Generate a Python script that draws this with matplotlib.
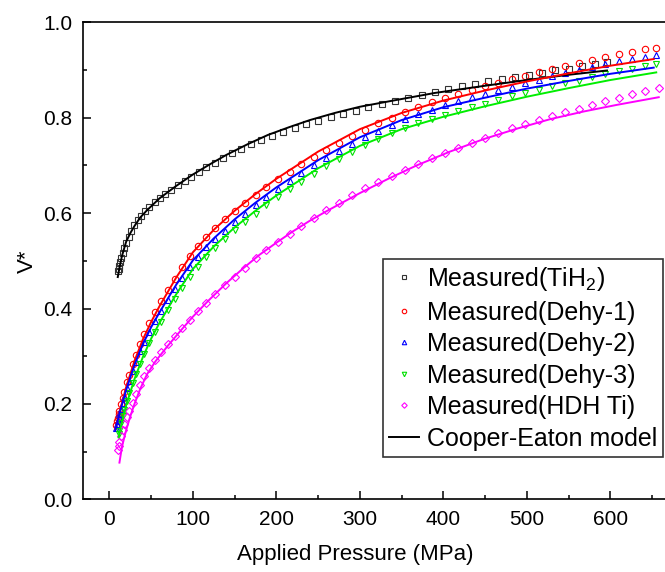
import matplotlib
matplotlib.use('Agg')
import matplotlib.pyplot as plt
from matplotlib.lines import Line2D
from matplotlib.ticker import MultipleLocator

plt.rcParams['font.family'] = ['Liberation Sans', 'DejaVu Sans']
plt.rcParams['mathtext.fontset'] = 'custom'
plt.rcParams['mathtext.rm'] = 'Liberation Sans'
plt.rcParams['mathtext.default'] = 'regular'

# measured data (pressure in MPa, relative density V*)
p_tih2 = [10.5, 11, 12, 13, 14, 16, 18, 20, 23, 26, 30, 34, 38, 43, 48, 54, 60, 67, 74, 82,
          90, 98, 107, 116, 126, 136, 147, 158, 170, 182, 195, 208, 222, 236, 250, 265, 280,
          295, 310, 326, 342, 358, 374, 390, 406, 422, 438, 454, 470, 486, 502, 518, 534, 550,
          566, 582, 596]
v_tih2 = [0.478, 0.482, 0.49, 0.498, 0.505, 0.517, 0.527, 0.537, 0.551, 0.563, 0.575, 0.585,
          0.594, 0.604, 0.613, 0.623, 0.632, 0.641, 0.649, 0.658, 0.667, 0.676, 0.686, 0.697,
          0.706, 0.716, 0.726, 0.735, 0.744, 0.753, 0.762, 0.770, 0.778, 0.786, 0.793, 0.801,
          0.808, 0.815, 0.822, 0.829, 0.836, 0.842, 0.848, 0.854, 0.860, 0.866, 0.871, 0.876,
          0.881, 0.886, 0.890, 0.894, 0.899, 0.903, 0.908, 0.912, 0.916]

p_dehy = [8, 9, 10, 11, 12, 14, 16, 18, 21, 24, 28, 32, 37, 42, 48, 55, 62, 70, 78, 87, 96,
          106, 116, 127, 138, 150, 162, 175, 188, 202, 216, 230, 245, 260, 275, 290, 306, 322,
          338, 354, 370, 386, 402, 418, 434, 450, 466, 482, 498, 514, 530, 546, 562, 578, 594,
          610, 626, 642, 655]
v_dehy1 = [0.156, 0.164, 0.171, 0.178, 0.185, 0.199, 0.212, 0.226, 0.245, 0.261, 0.283, 0.303,
           0.326, 0.347, 0.369, 0.393, 0.415, 0.439, 0.462, 0.487, 0.510, 0.532, 0.551, 0.569,
           0.587, 0.605, 0.622, 0.639, 0.655, 0.671, 0.687, 0.702, 0.718, 0.733, 0.747, 0.761,
           0.775, 0.788, 0.800, 0.812, 0.822, 0.832, 0.841, 0.850, 0.858, 0.866, 0.873, 0.881,
           0.888, 0.895, 0.902, 0.909, 0.915, 0.921, 0.927, 0.933, 0.938, 0.943, 0.947]
v_dehy2 = [0.149, 0.157, 0.164, 0.171, 0.178, 0.190, 0.202, 0.215, 0.233, 0.248, 0.269, 0.288,
           0.310, 0.330, 0.350, 0.374, 0.395, 0.418, 0.440, 0.464, 0.487, 0.507, 0.528, 0.545,
           0.563, 0.582, 0.599, 0.617, 0.634, 0.651, 0.668, 0.684, 0.701, 0.716, 0.730, 0.745,
           0.759, 0.772, 0.785, 0.797, 0.807, 0.817, 0.826, 0.835, 0.843, 0.850, 0.858, 0.865,
           0.873, 0.880, 0.887, 0.893, 0.900, 0.906, 0.912, 0.918, 0.923, 0.928, 0.931]

p_dehy3 = [11, 12, 14, 16, 18, 21, 24, 28, 32, 37, 42, 48, 55, 62, 70, 78, 87, 96, 106, 116,
           127, 138, 150, 162, 175, 188, 202, 216, 230, 245, 260, 275, 290, 306, 322, 338, 354,
           370, 386, 402, 418, 434, 450, 466, 482, 498, 514, 530, 546, 562, 578, 594, 610, 626,
           642, 655]
v_dehy3 = [0.136, 0.144, 0.161, 0.175, 0.188, 0.207, 0.223, 0.243, 0.262, 0.284, 0.305, 0.327,
           0.351, 0.372, 0.396, 0.419, 0.444, 0.466, 0.488, 0.507, 0.527, 0.545, 0.564, 0.581,
           0.599, 0.616, 0.633, 0.650, 0.666, 0.683, 0.699, 0.714, 0.729, 0.743, 0.755, 0.767,
           0.778, 0.788, 0.797, 0.806, 0.814, 0.822, 0.829, 0.837, 0.845, 0.852, 0.859, 0.866,
           0.872, 0.878, 0.885, 0.891, 0.897, 0.902, 0.908, 0.913]

p_hdh = [10, 11, 12, 14, 16, 18, 21, 24, 28, 32, 37, 42, 48, 55, 62, 70, 78, 87, 96, 106, 116,
         127, 138, 150, 162, 175, 188, 202, 216, 230, 245, 260, 275, 290, 306, 322, 338, 354,
         370, 386, 402, 418, 434, 450, 466, 482, 498, 514, 530, 546, 562, 578, 594, 610, 626,
         642, 658]
v_hdh = [0.104, 0.112, 0.12, 0.133, 0.146, 0.157, 0.172, 0.186, 0.203, 0.220, 0.239, 0.258,
         0.276, 0.293, 0.309, 0.326, 0.342, 0.359, 0.376, 0.394, 0.412, 0.430, 0.449, 0.467,
         0.485, 0.505, 0.522, 0.540, 0.557, 0.574, 0.590, 0.607, 0.622, 0.638, 0.652, 0.665,
         0.678, 0.690, 0.702, 0.715, 0.725, 0.736, 0.747, 0.758, 0.768, 0.778, 0.787, 0.795,
         0.804, 0.812, 0.819, 0.827, 0.834, 0.842, 0.849, 0.856, 0.863]

# Cooper-Eaton fitted curves
fit_p_tih2 = [10, 12, 15, 20, 25, 30, 37, 45, 60, 80, 100, 120, 140, 165, 190, 215, 240, 270,
              300, 340, 390, 450, 500, 550, 596]
fit_v_tih2 = [0.466, 0.485, 0.51, 0.54, 0.558, 0.573, 0.591, 0.606, 0.631, 0.657, 0.681, 0.702,
              0.722, 0.744, 0.764, 0.780, 0.795, 0.810, 0.823, 0.836, 0.852, 0.867, 0.879,
              0.890, 0.899]
fit_p_dehy = [7, 10, 14, 20, 30, 40, 50, 60, 80, 100, 125, 150, 175, 200, 250, 300, 350, 400,
              450, 500, 550, 600, 652]
fit_v_dehy1 = [0.146, 0.168, 0.195, 0.235, 0.29, 0.335, 0.372, 0.405, 0.465, 0.518, 0.565,
               0.605, 0.64, 0.672, 0.729, 0.776, 0.81, 0.836, 0.857, 0.876, 0.893, 0.909, 0.923]
fit_v_dehy2 = [0.144, 0.166, 0.192, 0.229, 0.282, 0.325, 0.361, 0.392, 0.450, 0.501, 0.547,
               0.587, 0.622, 0.654, 0.711, 0.759, 0.795, 0.822, 0.842, 0.861, 0.877, 0.892,
               0.905]
fit_p_dehy3 = [11, 14, 20, 30, 40, 50, 60, 80, 100, 125, 150, 175, 200, 250, 300, 350, 400,
               450, 500, 550, 600, 655]
fit_v_dehy3 = [0.13, 0.155, 0.197, 0.252, 0.298, 0.337, 0.37, 0.43, 0.483, 0.530, 0.570, 0.605,
               0.637, 0.694, 0.741, 0.776, 0.802, 0.824, 0.844, 0.862, 0.879, 0.895]
fit_p_hdh = [12, 15, 20, 25, 30, 37, 45, 55, 70, 85, 100, 120, 140, 160, 180, 200, 220, 240,
             260, 280, 300, 334, 368, 408, 448, 488, 528, 568, 608, 658]
fit_v_hdh = [0.077, 0.11, 0.145, 0.174, 0.20, 0.232, 0.262, 0.289, 0.322, 0.353, 0.383, 0.419,
             0.453, 0.484, 0.513, 0.538, 0.562, 0.584, 0.604, 0.623, 0.642, 0.672, 0.700, 0.729,
             0.755, 0.777, 0.797, 0.813, 0.827, 0.843]

series = [
    (p_tih2, v_tih2, fit_p_tih2, fit_v_tih2, 's', '#333333', 'black', 'Measured(TiH$_2$)'),
    (p_dehy, v_dehy1, fit_p_dehy, fit_v_dehy1, 'o', 'red', 'red', 'Measured(Dehy-1)'),
    (p_dehy, v_dehy2, fit_p_dehy, fit_v_dehy2, '^', 'blue', 'blue', 'Measured(Dehy-2)'),
    (p_dehy3, v_dehy3, fit_p_dehy3, fit_v_dehy3, 'v', '#00e000', '#00ee00', 'Measured(Dehy-3)'),
    (p_hdh, v_hdh, fit_p_hdh, fit_v_hdh, 'D', 'magenta', 'magenta', 'Measured(HDH Ti)'),
]

fig = plt.figure(figsize=(6.65, 5.72), dpi=100)
ax = fig.add_axes([0.125, 0.127, 0.875, 0.834])

handles = []
for p, v, fp, fv, mk, mcol, lcol, label in series:
    ms = 4.0 if mk == 'D' else 4.6
    h, = ax.plot(p, v, linestyle='none', marker=mk, markersize=ms, markerfacecolor='none',
                 markeredgecolor=mcol, markeredgewidth=0.8, label=label)
    handles.append(h)
for p, v, fp, fv, mk, mcol, lcol, label in series:
    ax.plot(fp, fv, color=lcol, linewidth=1.4)

handles.append(Line2D([], [], color='black', linewidth=1.4, label='Cooper-Eaton model'))

ax.set_xlim(-31.5, 665.5)
ax.set_ylim(0, 1.0)
ax.xaxis.set_major_locator(MultipleLocator(100))
ax.xaxis.set_minor_locator(MultipleLocator(50))
ax.yaxis.set_major_locator(MultipleLocator(0.2))
ax.yaxis.set_minor_locator(MultipleLocator(0.1))
ax.yaxis.set_major_formatter(plt.FormatStrFormatter('%.1f'))
ax.tick_params(which='both', direction='in', top=False, right=False, labelsize=15, width=1.1)
ax.tick_params(which='major', length=6, pad=8)
ax.tick_params(which='minor', length=3)
ax.spines['right'].set_visible(False)
for s in ['left', 'bottom', 'top']:
    ax.spines[s].set_linewidth(1.2)

ax.set_xlabel('Applied Pressure (MPa)', fontsize=16, va='center')
ax.xaxis.set_label_coords(0.467, -0.116)
ax.set_ylabel('V*', fontsize=16, va='center')
ax.yaxis.set_label_coords(-0.096, 0.5)

leg = ax.legend(handles=handles, loc='lower right', bbox_to_anchor=(0.9966, 0.089),
                borderaxespad=0, fontsize=18, frameon=True, fancybox=False, markerscale=0.7,
                handlelength=1.2, handletextpad=0.3, labelspacing=0.3, borderpad=0.25)
leg.get_frame().set_edgecolor('black')
leg.get_frame().set_linewidth(1.2)

fig.savefig('out.png', dpi=100)
